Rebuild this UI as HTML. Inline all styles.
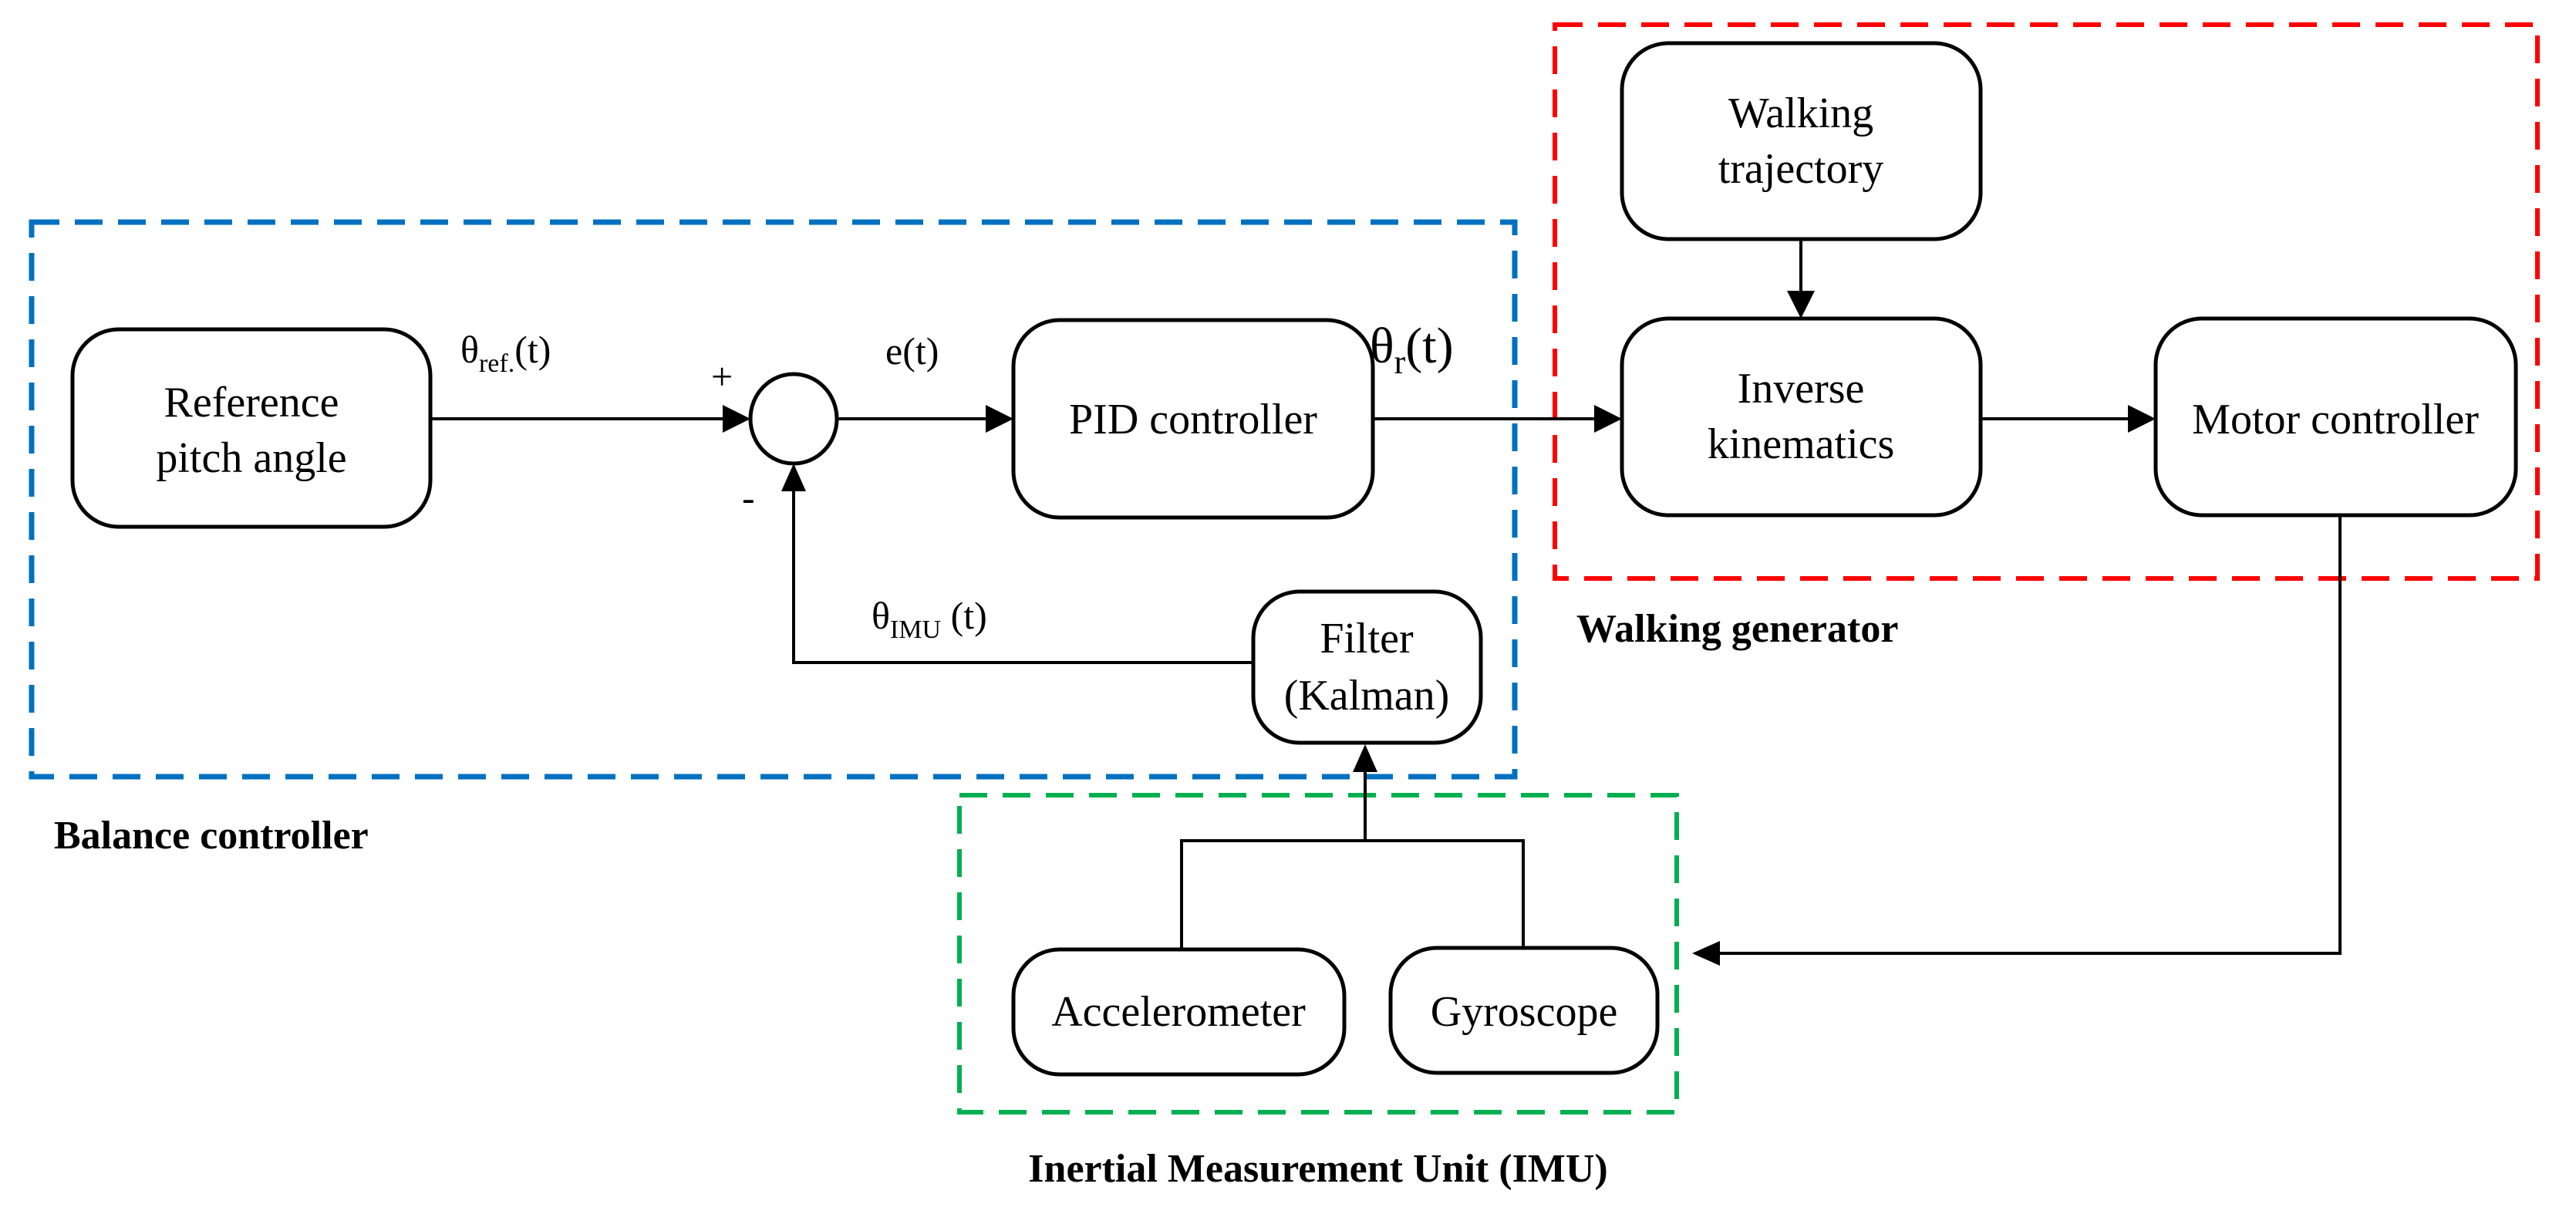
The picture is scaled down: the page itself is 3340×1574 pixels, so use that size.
<!DOCTYPE html>
<html><head><meta charset="utf-8"><style>
html,body{margin:0;padding:0;background:#fff;}
svg{display:block;}
text{font-family:"Liberation Serif",serif;fill:#000;}
</style></head><body>
<svg width="3340" height="1574" viewBox="0 0 3340 1574" xmlns="http://www.w3.org/2000/svg">
<defs>
<marker id="ar" markerWidth="10" markerHeight="10" refX="9" refY="5" orient="auto" markerUnits="userSpaceOnUse" viewBox="0 0 10 10">
</marker>
</defs>
<!-- dashed groups -->
<rect x="41" y="288" width="1923" height="719" fill="none" stroke="#0070C0" stroke-width="7" stroke-dasharray="36,20"/>
<rect x="2016" y="32" width="1274" height="718" fill="none" stroke="#FF0000" stroke-width="6" stroke-dasharray="36,20"/>
<rect x="1244" y="1031" width="930" height="411" fill="none" stroke="#00B050" stroke-width="6" stroke-dasharray="36,20"/>

<g fill="none" stroke="#000" stroke-width="5">
<rect x="94" y="427" width="464" height="256" rx="60"/>
<ellipse cx="1029" cy="543" rx="56" ry="58"/>
<rect x="1314" y="415" width="466" height="256" rx="60"/>
<rect x="1625" y="767" width="295" height="196" rx="60"/>
<rect x="2103" y="56" width="465" height="254" rx="60"/>
<rect x="2103" y="413" width="465" height="255" rx="60"/>
<rect x="2795" y="413" width="467" height="255" rx="60"/>
<rect x="1314" y="1231" width="429" height="162" rx="60"/>
<rect x="1803" y="1229" width="346" height="162" rx="60"/>
</g>
<g fill="none" stroke="#000" stroke-width="4">
<line x1="558" y1="543" x2="940" y2="543"/>
<line x1="1085" y1="543" x2="1280" y2="543"/>
<line x1="1780" y1="543" x2="2070" y2="543"/>
<line x1="2568" y1="543" x2="2760" y2="543"/>
<line x1="2335" y1="310" x2="2335" y2="380"/>
<polyline points="1625,859 1029,859 1029,635"/>
<line x1="1770" y1="1090" x2="1770" y2="998"/>
<polyline points="1532,1231 1532,1090 1975,1090 1975,1229"/>
<polyline points="3034,668 3034,1236 2228,1236"/>
</g>
<g fill="#000">
<polygon points="973,543 937,525 937,561"/>
<polygon points="1314,543 1278,525 1278,561"/>
<polygon points="2103,543 2067,525 2067,561"/>
<polygon points="2795,543 2759,525 2759,561"/>
<polygon points="2335,413 2317,377 2353,377"/>
<polygon points="1029,601 1013,637 1045,637"/>
<polygon points="1770,965 1754,1001 1786,1001"/>
<polygon points="2194,1236 2230,1220 2230,1252"/>
</g>
<g font-size="56" text-anchor="middle">
<text x="326" y="540">Reference</text>
<text x="326" y="612">pitch angle</text>
<text x="1547" y="562">PID controller</text>
<text x="1772" y="846">Filter</text>
<text x="1772" y="920">(Kalman)</text>
<text x="2335" y="165">Walking</text>
<text x="2335" y="237">trajectory</text>
<text x="2335" y="522">Inverse</text>
<text x="2335" y="594">kinematics</text>
<text x="3028" y="562">Motor controller</text>
<text x="1528" y="1330">Accelerometer</text>
<text x="1976" y="1330">Gyroscope</text>
</g>
<g font-size="50">
<text x="597" y="470">θ<tspan font-size="34" dy="12">ref.</tspan><tspan dy="-12">(t)</tspan></text>
<text x="1148" y="472">e(t)</text>
<text x="1130" y="815">θ<tspan font-size="34" dy="12">IMU</tspan><tspan dy="-12"> (t)</tspan></text>
<text x="922" y="505">+</text>
<text x="962" y="662">-</text>
</g>
<text x="1776" y="470" font-size="66" font-family="Liberation Sans, sans-serif">θ<tspan font-size="44" dy="14">r</tspan><tspan dy="-14">(t)</tspan></text>
<g font-size="52" font-weight="bold">
<text x="70" y="1100">Balance controller</text>
<text x="2044" y="832">Walking generator</text>
<text x="1709" y="1532" text-anchor="middle">Inertial Measurement Unit (IMU)</text>
</g>
</svg>
</body></html>
